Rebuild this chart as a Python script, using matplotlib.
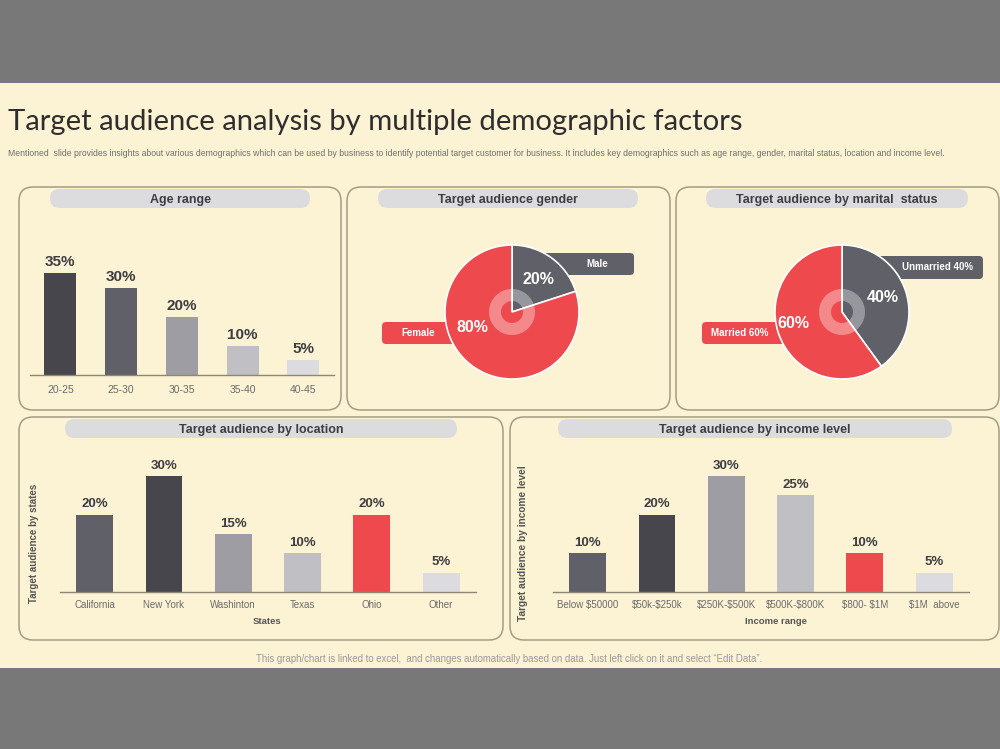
import matplotlib
matplotlib.use("Agg")
import matplotlib.pyplot as plt
from matplotlib.patches import FancyBboxPatch, Rectangle, Wedge

# ---- data ----
age_cats = ["20-25", "25-30", "30-35", "35-40", "40-45"]
age_vals = [35, 30, 20, 10, 5]

gender_labels = ["Male", "Female"]
gender_vals = [20, 80]

marital_labels = ["Unmarried 40%", "Married 60%"]
marital_vals = [40, 60]

loc_cats = ["California", "New York", "Washinton", "Texas", "Ohio", "Other"]
loc_vals = [20, 30, 15, 10, 20, 5]

inc_cats = ["Below $50000", "$50k-$250k", "$250K-$500K", "$500K-$800K", "$800- $1M", "$1M  above"]
inc_vals = [10, 20, 30, 25, 10, 5]

title = "Target audience analysis by multiple demographic factors"
subtitle = ("Mentioned  slide provides insights about various demographics which can be used by business to identify "
            "potential target customer for business. It includes key demographics such as age range, gender, marital "
            "status, location and income level.")
footer = ("This graph/chart is linked to excel,  and changes automatically based on data. Just left click on it "
          "and select \u201cEdit Data\u201d.")

# ---- colours ----
CREAM = "#fcf2d4"
OUTER = "#787878"
EDGE = "#a39d84"
PILL = "#dcdcdf"
DARK = "#46464c"
MID = "#5f6068"
GREY = "#9d9da3"
LIGHT = "#bfbfc4"
PALE = "#dcdce0"
RED = "#ee4a4e"
TXT = "#3d3d42"

age_colors = [DARK, MID, GREY, LIGHT, PALE]
loc_colors = [MID, DARK, GREY, LIGHT, RED, PALE]
inc_colors = [MID, DARK, GREY, LIGHT, RED, PALE]

plt.rcParams["font.family"] = ["Liberation Sans", "DejaVu Sans"]
plt.rcParams["text.parse_math"] = False

W, H = 1000, 749
fig = plt.figure(figsize=(W / 100, H / 100), dpi=100)
fig.patch.set_facecolor(OUTER)

bg = fig.add_axes([0, 0, 1, 1])
bg.set_xlim(0, W)
bg.set_ylim(H, 0)
bg.axis("off")

bg.add_patch(Rectangle((0, 83), W, 585, facecolor=CREAM, edgecolor="none"))

bg.text(8, 122, title, fontsize=21.1, family=["Lato", "DejaVu Sans"], color="#2e2e2e", va="center", ha="left")
bg.text(8, 153, subtitle, fontsize=6.25, color="#6f6f6f", va="center", ha="left")
bg.text(509, 659, footer, fontsize=6.9, color="#9a9a9a", va="center", ha="center")


def px_axes(x0, y0, x1, y1):
    return fig.add_axes([x0 / W, 1 - y1 / H, (x1 - x0) / W, (y1 - y0) / H])


def panel(x0, y0, x1, y1, px0, px1, head):
    bg.add_patch(FancyBboxPatch((x0, y0), x1 - x0, y1 - y0,
                                boxstyle="round,pad=0,rounding_size=14",
                                facecolor=CREAM, edgecolor=EDGE, lw=1.1))
    bg.add_patch(FancyBboxPatch((px0, y0 + 2), px1 - px0, 19,
                                boxstyle="round,pad=0,rounding_size=9.5",
                                facecolor=PILL, edgecolor="none"))
    bg.text((px0 + px1) / 2, y0 + 13, head, fontsize=9, fontweight="bold",
            color=TXT, ha="center", va="center")


panel(19, 187, 341, 410, 50, 310, "Age range")
panel(347, 187, 670, 410, 378, 638, "Target audience gender")
panel(676, 187, 999, 410, 706, 968, "Target audience by marital  status")
panel(19, 417, 503, 640, 65, 457, "Target audience by location")
panel(510, 417, 999, 640, 558, 952, "Target audience by income level")


def bar_chart(ax, cats, vals, colors, ymax, vsize, tsize, tpad):
    x = range(len(cats))
    ax.bar(x, vals, width=0.53, color=colors)
    for i, v in zip(x, vals):
        ax.annotate(f"{v}%", (i, v), xytext=(0, 3), textcoords="offset points",
                    ha="center", va="bottom", fontsize=vsize, fontweight="bold", color=TXT)
    ax.set_xlim(-0.5, len(cats) - 0.5)
    ax.set_ylim(0, ymax)
    ax.set_xticks(list(x), cats)
    ax.tick_params(axis="x", length=0, pad=tpad, labelsize=tsize, labelcolor="#6b6b6b")
    ax.set_yticks([])
    ax.patch.set_visible(False)
    for s in ["top", "left", "right"]:
        ax.spines[s].set_visible(False)
    ax.spines["bottom"].set_color("#8c8878")
    ax.spines["bottom"].set_linewidth(1.0)


ax1 = px_axes(30, 255, 333.75, 375)
bar_chart(ax1, age_cats, age_vals, age_colors, 120 / 2.91, 11, 7.5, 7)

ax4 = px_axes(60, 462, 475.8, 592)
bar_chart(ax4, loc_cats, loc_vals, loc_colors, 130 / 3.87, 9.5, 7, 5.5)
bg.text(267, 622, "States", fontsize=6.8, fontweight="bold", color="#555555", ha="center", va="center")
bg.text(34, 543, "Target audience by states", fontsize=7, fontweight="bold", color="#555555",
        ha="center", va="center", rotation=90)

ax5 = px_axes(553, 462, 968.8, 592)
bar_chart(ax5, inc_cats, inc_vals, inc_colors, 130 / 3.87, 9.5, 7, 5.5)
bg.text(776, 622, "Income range", fontsize=6.8, fontweight="bold", color="#555555", ha="center", va="center")
bg.text(523, 543, "Target audience by income level", fontsize=7.3, fontweight="bold", color="#555555",
        ha="center", va="center", rotation=90)


def label_box(x0, y0, x1, y1, color, text, tx):
    bg.add_patch(FancyBboxPatch((x0, y0), x1 - x0, y1 - y0,
                                boxstyle="round,pad=0,rounding_size=4",
                                facecolor=color, edgecolor="none"))
    bg.text(tx, (y0 + y1) / 2, text, fontsize=7, fontweight="bold", color="white",
            ha="center", va="center")


def pie_chart(cx, cy, vals, colors):
    r = 67
    half = 75
    ax = px_axes(cx - half, cy - half, cx + half, cy + half)
    wedges, _ = ax.pie(vals, colors=colors, startangle=90, counterclock=False,
                       wedgeprops=dict(edgecolor="white", linewidth=1.2))
    for w in wedges:
        w.set_clip_on(False)
    lim = half / r
    ax.set_xlim(-lim, lim)
    ax.set_ylim(-lim, lim)
    ax.set_aspect("equal")
    ax.add_patch(Wedge((0, 0), 23 / r, 0, 360, width=12 / r, facecolor="white",
                       alpha=0.35, edgecolor="none"))
    return ax


label_box(530, 253, 634, 275, MID, gender_labels[0], 597)
label_box(382, 322, 470, 344, RED, gender_labels[1], 418)
label_box(860, 256, 983, 279, MID, marital_labels[0], 937)
label_box(702, 322, 800, 344, RED, marital_labels[1], 740)

pie_chart(512, 312, gender_vals, [MID, RED])
pie_chart(842, 312, marital_vals, [MID, RED])

# percentage labels sit above the pies, so they go on an overlay axis
top = fig.add_axes([0, 0, 1, 1])
top.set_xlim(0, W)
top.set_ylim(H, 0)
top.axis("off")
pct_pos = [(538, 279), (472, 327), (883, 298), (793, 323)]
for v, (px, py) in zip(gender_vals + marital_vals, pct_pos):
    top.text(px, py, f"{v}%", fontsize=11.5, fontweight="bold", color="white",
             ha="center", va="center")

fig.savefig("out.png", dpi=100, facecolor=OUTER)
